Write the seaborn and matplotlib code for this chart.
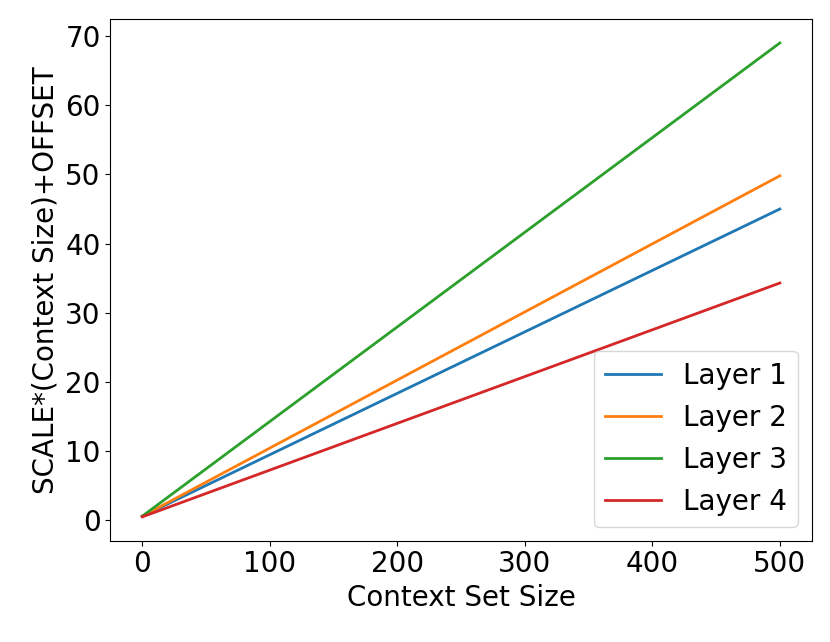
import pandas as pd
import numpy as np
import matplotlib
matplotlib.use('Agg')
import matplotlib.pyplot as plt
import seaborn as sns

# endpoints of each layer line
context_size = [0, 500]
layers = ['Layer 1', 'Layer 2', 'Layer 3', 'Layer 4']
start_vals = [0.6, 0.6, 0.6, 0.5]
end_vals = [45.0, 49.8, 69.0, 34.3]


def build_frame():
    rows = []
    for name, s, e in zip(layers, start_vals, end_vals):
        rows.append({'x': context_size[0], 'y': s, 'layer': name})
        rows.append({'x': context_size[1], 'y': e, 'layer': name})
    return pd.DataFrame(rows)


def plot(df):
    fig = plt.figure(figsize=(8.3, 6.42), dpi=100)
    ax = fig.add_axes([0.133, 0.158, 0.845, 0.812])
    sns.lineplot(data=df, x='x', y='y', hue='layer', palette='tab10', linewidth=2, ax=ax)
    ax.set_xlabel('Context Set Size', fontsize=20)
    ax.set_ylabel('SCALE*(Context Size)+OFFSET', fontsize=20)
    ax.tick_params(labelsize=20)
    ax.set_xticks([0, 100, 200, 300, 400, 500])
    ax.set_yticks([0, 10, 20, 30, 40, 50, 60, 70])
    ax.legend(loc='lower right', fontsize=20, title=None)
    fig.savefig('out.png', dpi=100)


if __name__ == '__main__':
    plot(build_frame())
